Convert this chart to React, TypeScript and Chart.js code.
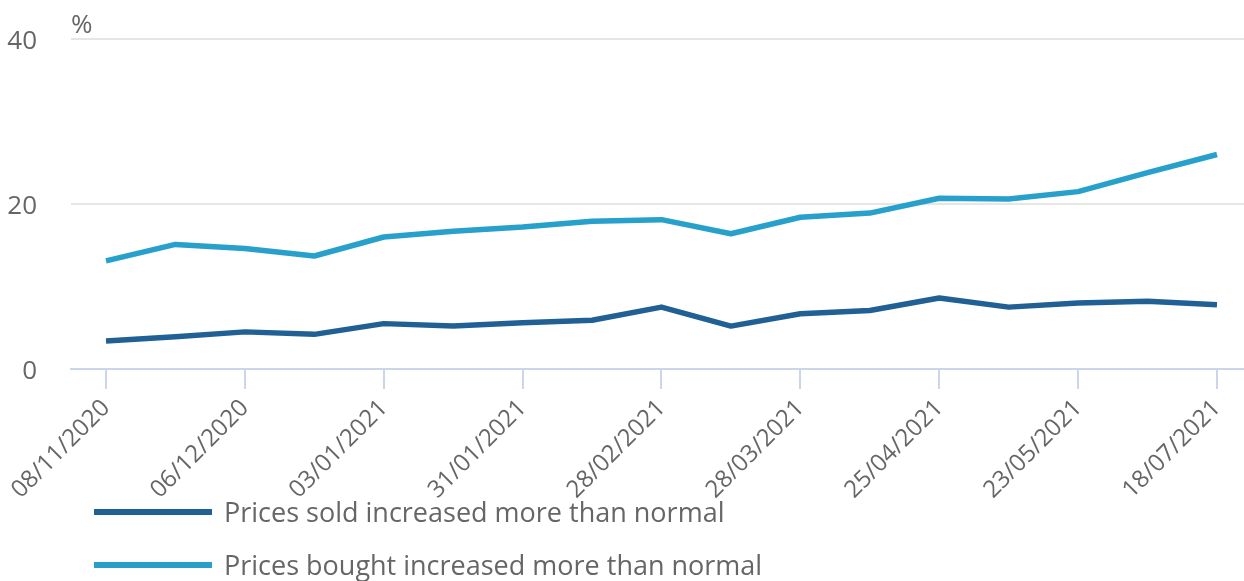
import React, { useEffect, useRef } from "react";
import { Chart, registerables } from "chart.js";

Chart.register(...registerables);

const categories = [
  "08/11/2020", "22/11/2020", "06/12/2020", "20/12/2020", "03/01/2021",
  "17/01/2021", "31/01/2021", "14/02/2021", "28/02/2021", "14/03/2021",
  "28/03/2021", "11/04/2021", "25/04/2021", "09/05/2021", "23/05/2021",
  "20/06/2021", "18/07/2021",
];
const pricesSold = [3.4, 3.9, 4.5, 4.2, 5.5, 5.2, 5.6, 5.9, 7.5, 5.2, 6.7, 7.1, 8.6, 7.5, 8.0, 8.2, 7.8];
const pricesBought = [13.1, 15.1, 14.6, 13.7, 16.0, 16.7, 17.2, 17.9, 18.1, 16.4, 18.4, 18.9, 20.7, 20.6, 21.5, 23.8, 26.0];
const seriesNames = ["Prices sold increased more than normal", "Prices bought increased more than normal"];
const seriesColors = ["#206095", "#27a0cc"];
const yTicks = [0, 20, 40];
const labeledIndices = [0, 2, 4, 6, 8, 10, 12, 14, 16];
const unitLabel = "%";

const FONT = "'Open Sans', sans-serif";
const TEXT = "#666666";

export default function App() {
  const ref = useRef<HTMLCanvasElement | null>(null);

  useEffect(() => {
    if (!ref.current) return;
    const unitPlugin = {
      id: "unitLabel",
      afterDraw(chart: any) {
        const { ctx, chartArea } = chart;
        ctx.save();
        ctx.font = `26px ${FONT}`;
        ctx.fillStyle = TEXT;
        ctx.textAlign = "left";
        ctx.textBaseline = "alphabetic";
        ctx.fillText(unitLabel, chartArea.left, chartArea.top - 6);
        ctx.restore();
      },
    };
    const chart = new Chart(ref.current, {
      type: "line",
      data: {
        datasets: [pricesSold, pricesBought].map((vals, s) => ({
          label: seriesNames[s],
          data: vals.map((v, i) => ({ x: i, y: v })),
          borderColor: seriesColors[s],
          backgroundColor: seriesColors[s],
          borderWidth: 5.5,
          pointRadius: 0,
          tension: 0,
          borderJoinStyle: "round" as const,
        })),
      },
      options: {
        animation: false,
        responsive: false,
        layout: { padding: { top: 39, right: 0, left: 0, bottom: 0 } },
        plugins: {
          legend: { display: false },
          tooltip: { enabled: false },
          title: { display: false },
        },
        scales: {
          x: {
            type: "linear",
            min: -0.504,
            max: 16.389,
            afterBuildTicks: (scale: any) => {
              scale.ticks = labeledIndices.map((v) => ({ value: v }));
            },
            afterFit: (scale: any) => {
              scale.height = 581 - 369;
            },
            border: { display: true, color: "#ccd6eb", width: 2 },
            grid: {
              drawOnChartArea: false,
              drawTicks: true,
              tickLength: 20,
              color: "#ccd6eb",
              lineWidth: 2,
            },
            ticks: {
              autoSkip: false,
              minRotation: 45,
              maxRotation: 45,
              padding: 5,
              color: TEXT,
              font: { family: FONT, size: 24 },
              callback: (v: any) => categories[Number(v)] ?? "",
            },
          },
          y: {
            min: 0,
            max: 40,
            afterBuildTicks: (scale: any) => {
              scale.ticks = yTicks.map((v) => ({ value: v }));
            },
            afterFit: (scale: any) => {
              scale.width = 71;
            },
            border: { display: false },
            grid: {
              drawTicks: true,
              tickLength: 30,
              tickColor: "rgba(0,0,0,0)",
              lineWidth: 2,
              color: (c: any) => (c.tick && c.tick.value === 0 ? "rgba(0,0,0,0)" : "#e6e6e6"),
            },
            ticks: {
              padding: 4,
              labelOffset: 3,
              color: TEXT,
              font: { family: FONT, size: 26 },
            },
          },
        },
      },
      plugins: [unitPlugin],
    } as any);
    return () => chart.destroy();
  }, []);

  return (
    <div style={{ position: "absolute", left: 0, top: 0, width: 1244, height: 581, background: "#fff", overflow: "hidden" }}>
      <canvas ref={ref} width={1244} height={581} style={{ display: "block" }} />
      {seriesNames.map((name, s) => (
        <div
          key={name}
          style={{
            position: "absolute",
            left: 94,
            top: 498 + s * 53,
            height: 27,
            display: "flex",
            alignItems: "center",
            fontFamily: FONT,
            fontSize: 27,
            lineHeight: "27px",
            color: TEXT,
            whiteSpace: "nowrap",
          }}
        >
          <span style={{ display: "inline-block", width: 118, height: 6, background: seriesColors[s], marginRight: 12 }} />
          <span>{name}</span>
        </div>
      ))}
    </div>
  );
}
